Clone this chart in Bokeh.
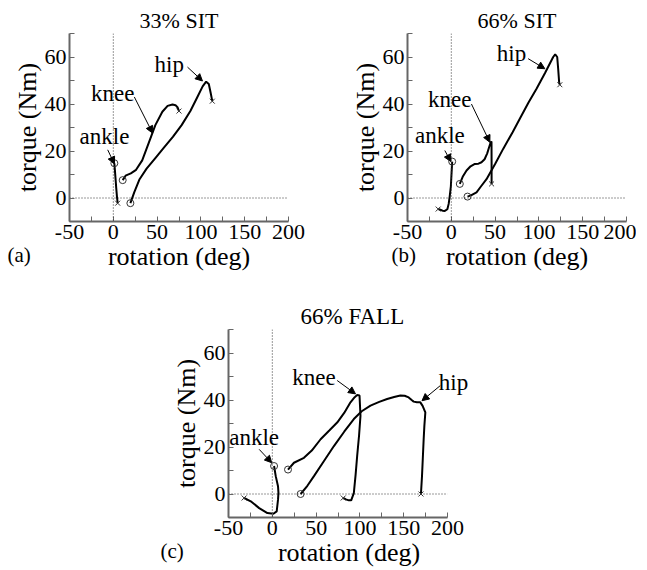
from bokeh.plotting import figure
from bokeh.models import Range1d, Span, Label, Arrow, NormalHead, Spacer, FixedTicker, Title
from bokeh.layouts import column, row
from bokeh.embed import file_html
from bokeh.resources import INLINE

FONT = "Liberation Serif"

# ---------------- data ----------------
x_ticks = [-50, 0, 50, 100, 150, 200]
y_ticks = [0, 20, 40, 60]

# (a) 33% SIT
a_ankle_x = [1.2, 1.8, 2.6, 3.4, 4.2, 5.0]
a_ankle_y = [14.8, 12, 8, 4, 0.5, -2.2]
a_knee_x = [10.7, 14, 20, 26, 33, 41, 48, 56, 62, 67.6, 71, 73.5, 75]
a_knee_y = [7.6, 9.5, 10.5, 12, 16, 24, 31, 36.7, 39.2, 39.8, 39.5, 38.5, 37]
a_hip_x = [19.5, 24, 30, 38, 48, 58, 68, 78, 88, 96, 102, 106, 109, 111, 113]
a_hip_y = [-2.2, 2.5, 8, 12.5, 17, 21.5, 26, 31, 37, 43, 47.5, 49.5, 48.5, 45, 41.2]

# (b) 66% SIT
b_ankle_x = [1, 0.5, -0.5, -1.7, -3, -4.5, -7.4, -10, -12.5, -15]
b_ankle_y = [15.5, 12, 5, 1, -2.5, -4.8, -5.5, -5.4, -5, -4.7]
b_knee_x = [9.7, 13, 17.4, 22, 26.9, 31, 34.5, 38, 41, 43.5, 45, 45.9, 46, 46]
b_knee_y = [6, 9, 11.7, 13.5, 14.5, 14.6, 15.2, 16.5, 19, 22, 23.7, 24, 15, 6]
b_hip_x = [18.5, 23, 28.8, 34, 40.2, 50, 59.2, 70, 78.2, 88, 97.3, 107, 116.3, 118.6, 120.9, 122, 123.1, 123.9]
b_hip_y = [0.6, 1.2, 2.4, 5, 8, 14.5, 20.9, 28, 33.7, 40.5, 46.5, 53.2, 60, 61.1, 60, 55, 49.3, 48.2]

# (c) 66% FALL
c_ankle_x = [2, 3.9, 6.5, 7, 6.5, 5, 1.2, -5.6, -15, -24.6, -32.2]
c_ankle_y = [11.9, 7.6, 3.3, 0.5, -2.4, -7.4, -8.4, -8.1, -6, -3.1, -1.7]
c_knee_x = [17.9, 24.7, 36.1, 45, 55.1, 65, 74, 82, 89.2, 94, 96.8, 99.5, 100.6, 99, 96.8, 95, 93, 90, 87.3, 84, 80.9]
c_knee_y = [10.4, 13.3, 15.4, 18.5, 23.3, 27, 30.4, 34.5, 39, 41.2, 42.1, 41.9, 33.3, 25, 16.1, 8, 0.4, -2.7, -2.7, -2.3, -1.7]
c_hip_x = [32.3, 40, 47.5, 58, 70.3, 82, 93, 102, 112, 122, 131, 139, 146.1, 151, 155.6, 159, 161.3, 165,
           168.9, 171.5, 174.6, 173.5, 172.7, 171.7, 170.8, 169.6]
c_hip_y = [0, 3.5, 7.6, 13.5, 20.4, 26.5, 31.9, 35.2, 37.6, 39.2, 40.4, 41.3, 41.9, 41.8, 41.1, 40, 39.3, 39,
           39, 37.5, 34.7, 29, 23.3, 15, 7.6, 0]

# annotations: (text, text_x, text_y, arrow_x0, arrow_y0, arrow_x1, arrow_y1)
a_notes = [("hip", 63.9, 56.7, 84.7, 55.7, 101.8, 49.8),
           ("knee", -0.7, 44.4, 24, 43, 44.9, 27.6),
           ("ankle", -10.1, 26.2, -6.4, 20.5, 1.3, 14.5)]
b_notes = [("hip", 68.7, 61.4, 87.7, 59.3, 106.8, 55),
           ("knee", -1.7, 41.9, 23, 40, 44, 23.7),
           ("ankle", -13.1, 26.6, -7.4, 20.2, -0.5, 15.5)]
c_notes = [("knee", 47.5, 49.7, 74, 48.3, 94.9, 42.6),
           ("hip", 206.8, 47.6, 191.6, 46.1, 170.8, 39.7),
           ("ankle", -20.8, 24, -15, 19, -0.7, 13.3)]


def make_panel(title, tag, tag_offset, curves, notes, left, right, top,
               align="center", title_offset=0, title_size="22px", x_end=200, frame_w=219):
    p = figure(output_backend="svg", toolbar_location=None,
               frame_width=frame_w, frame_height=188,
               min_border_left=left, min_border_right=right, min_border_top=top, min_border_bottom=52,
               x_range=Range1d(x_ticks[0], x_end), y_range=Range1d(-10, 70),
               background_fill_color="white", border_fill_color="white")
    p.outline_line_color = None
    p.grid.visible = False
    p.title.text = title
    p.title.align = align
    p.title.offset = title_offset
    p.title.text_font = FONT
    p.title.text_font_size = title_size
    p.title.text_font_style = "normal"
    p.title.text_color = "black"
    p.title.standoff = 2

    p.xaxis.ticker = FixedTicker(ticks=x_ticks, minor_ticks=[-25, 25, 75, 125, 175])
    p.yaxis.ticker = FixedTicker(ticks=y_ticks, minor_ticks=[-10, 10, 30, 50, 70])
    p.xaxis.bounds = (x_ticks[0], x_ticks[-1])
    p.xaxis.major_label_overrides = {t: str(t) for t in x_ticks}
    for ax in (p.xaxis[0], p.yaxis[0]):
        ax.axis_line_color = "#666666"
        ax.axis_line_width = 2
        ax.major_tick_in = 5
        ax.major_tick_out = 0
        ax.minor_tick_in = 5
        ax.minor_tick_out = 0
        ax.major_tick_line_color = "#666666"
        ax.minor_tick_line_color = "#666666"
        ax.major_label_text_font = FONT
        ax.major_label_text_font_size = "22px"
        ax.major_label_text_color = "black"
        ax.axis_label_text_font = FONT
        ax.axis_label_text_font_size = "26px"
        ax.axis_label_text_font_style = "normal"
        ax.axis_label_text_color = "black"
        ax.major_label_standoff = 3
        ax.axis_label_standoff = 0
    p.xaxis.axis_label = "rotation (deg)"
    p.yaxis.axis_label = "torque (Nm)"

    # dotted zero reference lines
    p.line([x_ticks[0], x_ticks[-1]], [0, 0], line_color="#333333", line_width=1, line_dash="1 2")
    p.add_layout(Span(location=0, dimension="height", line_color="#333333", line_width=1, line_dash="1 2"))

    for xs, ys in curves:
        p.line(xs, ys, line_color="black", line_width=2)
        p.scatter([xs[0]], [ys[0]], marker="circle", size=7, fill_color="white", fill_alpha=0,
                  line_color="#333333", line_width=1)
        p.scatter([xs[-1]], [ys[-1]], marker="x", size=7, line_color="#333333", line_width=1)

    for txt, tx, ty, x0, y0, x1, y1 in notes:
        p.add_layout(Label(x=tx, y=ty, text=txt, text_font=FONT, text_font_size="23px",
                           text_align="center", text_baseline="middle", text_color="black"))
        p.add_layout(Arrow(x_start=x0, y_start=y0, x_end=x1, y_end=y1, line_width=1, line_color="black",
                           end=NormalHead(size=7, fill_color="black", line_color="black", line_width=1)))

    p.add_layout(Title(text=tag, align="left", vertical_align="top", offset=tag_offset, standoff=-62,
                       text_font=FONT, text_font_size="21px", text_font_style="normal",
                       text_color="black"), "below")
    return p


pa = make_panel("33% SIT", "(a)", -62,
                [(a_ankle_x, a_ankle_y), (a_knee_x, a_knee_y), (a_hip_x, a_hip_y)], a_notes, 69, 29, 28)
pb = make_panel("66% SIT", "(b)", -16,
                [(b_ankle_x, b_ankle_y), (b_knee_x, b_knee_y), (b_hip_x, b_hip_y)], b_notes, 90, 10, 28)
pc = make_panel("66% FALL", "(c)", -68,
                [(c_ankle_x, c_ankle_y), (c_knee_x, c_knee_y), (c_hip_x, c_hip_y)], c_notes, 74, 18, 28,
                align="left", title_offset=72, title_size="23px", x_end=225, frame_w=241)

layout = column(Spacer(height=4), row(pa, pb), Spacer(height=27), row(Spacer(width=154), pc))

with open("out.html", "w") as f:
    f.write(file_html(layout, INLINE))
